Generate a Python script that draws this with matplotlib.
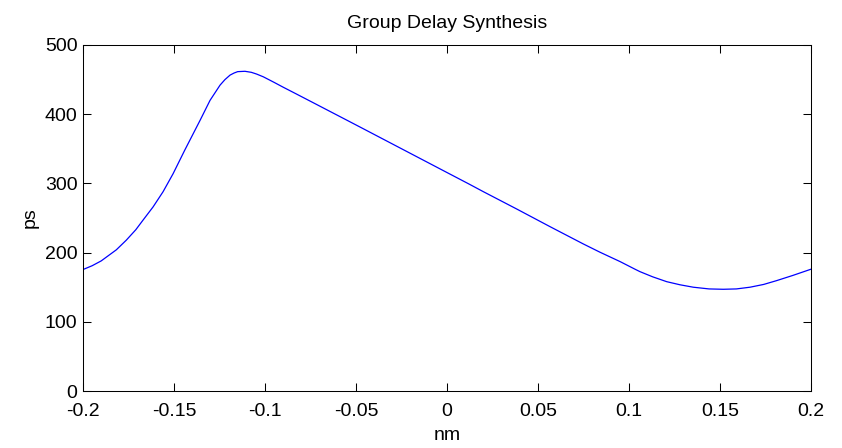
import matplotlib
matplotlib.use("Agg")
import matplotlib.pyplot as plt

# wavelength offset (nm) and group delay (ps)
nm = [-0.200, -0.195, -0.190, -0.1817, -0.1762, -0.171, -0.167, -0.1615,
      -0.156, -0.1505, -0.1441, -0.1357, -0.1302, -0.1247, -0.122, -0.1192,
      -0.117, -0.115, -0.111, -0.1075, -0.1046, -0.1009, -0.095, -0.090,
      -0.0826, -0.0716, -0.0533, -0.046, -0.0093, 0.0016, 0.0118, 0.020,
      0.0383, 0.0566, 0.0749, 0.0841, 0.0951, 0.1033, 0.106, 0.113,
      0.1207, 0.128, 0.1353, 0.144, 0.1518, 0.159, 0.1665, 0.174,
      0.1811, 0.190, 0.200]
ps = [175.5, 181, 188, 204, 218, 233, 247, 266,
      288, 314, 348, 391, 420, 442, 450, 456.5,
      459.5, 461.5, 462, 460.5, 458, 454, 446, 439,
      429, 414, 389, 379, 328.5, 313.5, 299.5, 288,
      263, 237.5, 212.5, 200.5, 187, 176, 172.5, 165,
      158, 153.5, 150, 147.5, 147, 147.5, 150, 154,
      159.5, 167, 176]

xticks = [-0.2, -0.15, -0.1, -0.05, 0, 0.05, 0.1, 0.15, 0.2]
xticklabels = ["-0.2", "-0.15", "-0.1", "-0.05", "0", "0.05", "0.1", "0.15", "0.2"]
yticks = [0, 100, 200, 300, 400, 500]

plt.rcParams["font.family"] = ["Liberation Sans", "DejaVu Sans"]
plt.rcParams["font.size"] = 14

fig = plt.figure(figsize=(8.42, 4.48), dpi=100)
ax = fig.add_axes([83 / 842, 57 / 448, 728 / 842, 346 / 448])

ax.plot(nm, ps, color="#0000ff", linewidth=0.9)

ax.set_xlim(-0.2, 0.2)
ax.set_ylim(0, 500)
ax.set_xticks(xticks)
ax.set_xticklabels(xticklabels)
ax.set_yticks(yticks)
ax.tick_params(direction="in", top=True, right=True, length=5.5, width=0.75,
               labelsize=14)
ax.tick_params(axis="x", pad=8.5)
ax.tick_params(axis="y", pad=4)
for sp in ax.spines.values():
    sp.set_linewidth(0.75)

ax.set_title("Group Delay Synthesis", fontsize=14, pad=12)
ax.set_xlabel("nm", fontsize=14, labelpad=5)
ax.set_ylabel("ps", fontsize=14, labelpad=4)

fig.savefig("out.png", dpi=100)
